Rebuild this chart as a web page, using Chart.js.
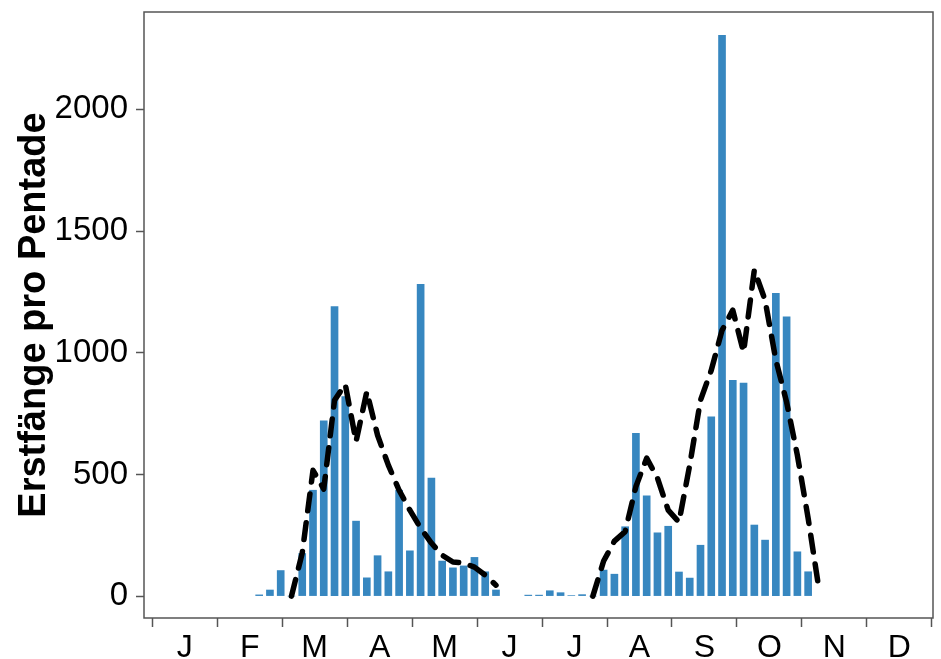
<!DOCTYPE html>
<html>
<head>
<meta charset="utf-8">
<script src="https://cdn.jsdelivr.net/npm/chart.js@4/dist/chart.umd.min.js"></script>
<style>
  body { margin: 0; background: #ffffff; }
  #wrap { width: 941px; height: 659px; }
</style>
</head>
<body>
<div id="wrap"><canvas id="chart"></canvas></div>
<script>
const months = ['J', 'F', 'M', 'A', 'M', 'J', 'J', 'A', 'S', 'O', 'N', 'D']

// first captures per pentade, starting at pentade 10
const firstBarPentade = 10
const catches = [
  5, 25, 105, 0, 175, 435, 720, 1190, 820, 308,
  75, 166, 100, 435, 186, 1281, 485, 144, 116, 124,
  159, 100, 25, null, null, 4, 4, 22, 14, 2,
  6, 0, 107, 90, 285, 669, 412, 260, 287, 99,
  74, 209, 737, 2304, 887, 875, 292, 230, 1244, 1147,
  182, 100
]

// smoothed curve, starting at pentade 13
const firstTrendPentade = 13
const trend = [
  0, 177, 517, 440, 805, 870, 635, 840, 661, 538,
  435, 353, 279, 218, 168, 140, 136, 119, 86, 45,
  null, null, null, null, null, null, null, null,
  0, 144, 226, 265, 450, 567, 485, 353, 304, 538,
  805, 928, 1092, 1175, 1002, 1340, 1216, 970, 797, 579,
  320, 30
]

const yTicks = [0, 500, 1000, 1500, 2000]

const monthLen = 6.035   // pentades per month on the axis
const monthStart = 0.07
const axisGrey = '#555555'
const barColor = '#3787c0'

const barPoints = catches.map((v, i) => ({ x: firstBarPentade + i, y: v }))
const trendPoints = trend.map((v, i) => ({ x: firstTrendPentade + i, y: v }))

const frame = {
  id: 'frame',
  afterDraw (chart) {
    const { ctx, chartArea } = chart
    ctx.save()
    ctx.strokeStyle = axisGrey
    ctx.lineWidth = 1.5
    ctx.strokeRect(chartArea.left, chartArea.top, chartArea.right - chartArea.left, chartArea.bottom - chartArea.top)
    ctx.restore()
  }
}

new Chart(document.getElementById('chart'), {
  type: 'bar',
  data: {
    datasets: [{
      type: 'line',
      data: trendPoints,
      borderColor: '#000000',
      borderWidth: 5.5,
      borderDash: [17, 12],
      borderCapStyle: 'round',
      borderJoinStyle: 'round',
      pointRadius: 0,
      tension: 0,
      spanGaps: false,
      order: 1
    }, {
      type: 'bar',
      data: barPoints,
      backgroundColor: barColor,
      barThickness: 7,
      order: 2
    }]
  },
  plugins: [frame],
  options: {
    responsive: true,
    maintainAspectRatio: false,
    animation: false,
    layout: { padding: { top: 12, right: 8, left: 0, bottom: 0 } },
    plugins: {
      legend: { display: false },
      tooltip: { enabled: false }
    },
    scales: {
      x: {
        type: 'linear',
        offset: false,
        min: -0.7,
        max: 72.6,
        afterBuildTicks (scale) {
          const ticks = []
          for (let m = 0; m <= 12; m++) {
            ticks.push({ value: monthStart + m * monthLen })
            if (m < 12) ticks.push({ value: monthStart + (m + 0.5) * monthLen })
          }
          scale.ticks = ticks
        },
        afterFit (scale) {
          scale.height = 41
          scale.paddingLeft = 0
          scale.paddingRight = 0
        },
        border: { display: false },
        grid: {
          offset: false,
          drawOnChartArea: false,
          tickLength: 9,
          tickWidth: 1.5,
          tickColor: (ctx) => (ctx.index % 2 === 0 ? axisGrey : 'rgba(0,0,0,0)')
        },
        ticks: {
          autoSkip: false,
          maxRotation: 0,
          padding: 2,
          color: '#000000',
          font: { family: 'Liberation Sans', size: 32 },
          callback: (value, index) => (index % 2 === 1 ? months[(index - 1) / 2] : '')
        }
      },
      y: {
        min: -90,
        max: 2400,
        afterBuildTicks (scale) {
          scale.ticks = yTicks.map(v => ({ value: v }))
        },
        afterFit (scale) {
          scale.width = 144
          scale.paddingTop = 0
          scale.paddingBottom = 0
        },
        border: { display: false },
        grid: {
          drawOnChartArea: false,
          tickLength: 8,
          tickWidth: 1.5,
          tickColor: axisGrey
        },
        ticks: {
          padding: 8,
          color: '#000000',
          font: { family: 'Liberation Sans', size: 33 },
          callback: (value) => String(value)
        },
        title: {
          display: true,
          text: 'Erstfänge pro Pentade',
          color: '#000000',
          padding: { top: 12, bottom: 0 },
          font: { family: 'Liberation Sans', size: 38, weight: 'bold' }
        }
      }
    }
  }
})
</script>
</body>
</html>
